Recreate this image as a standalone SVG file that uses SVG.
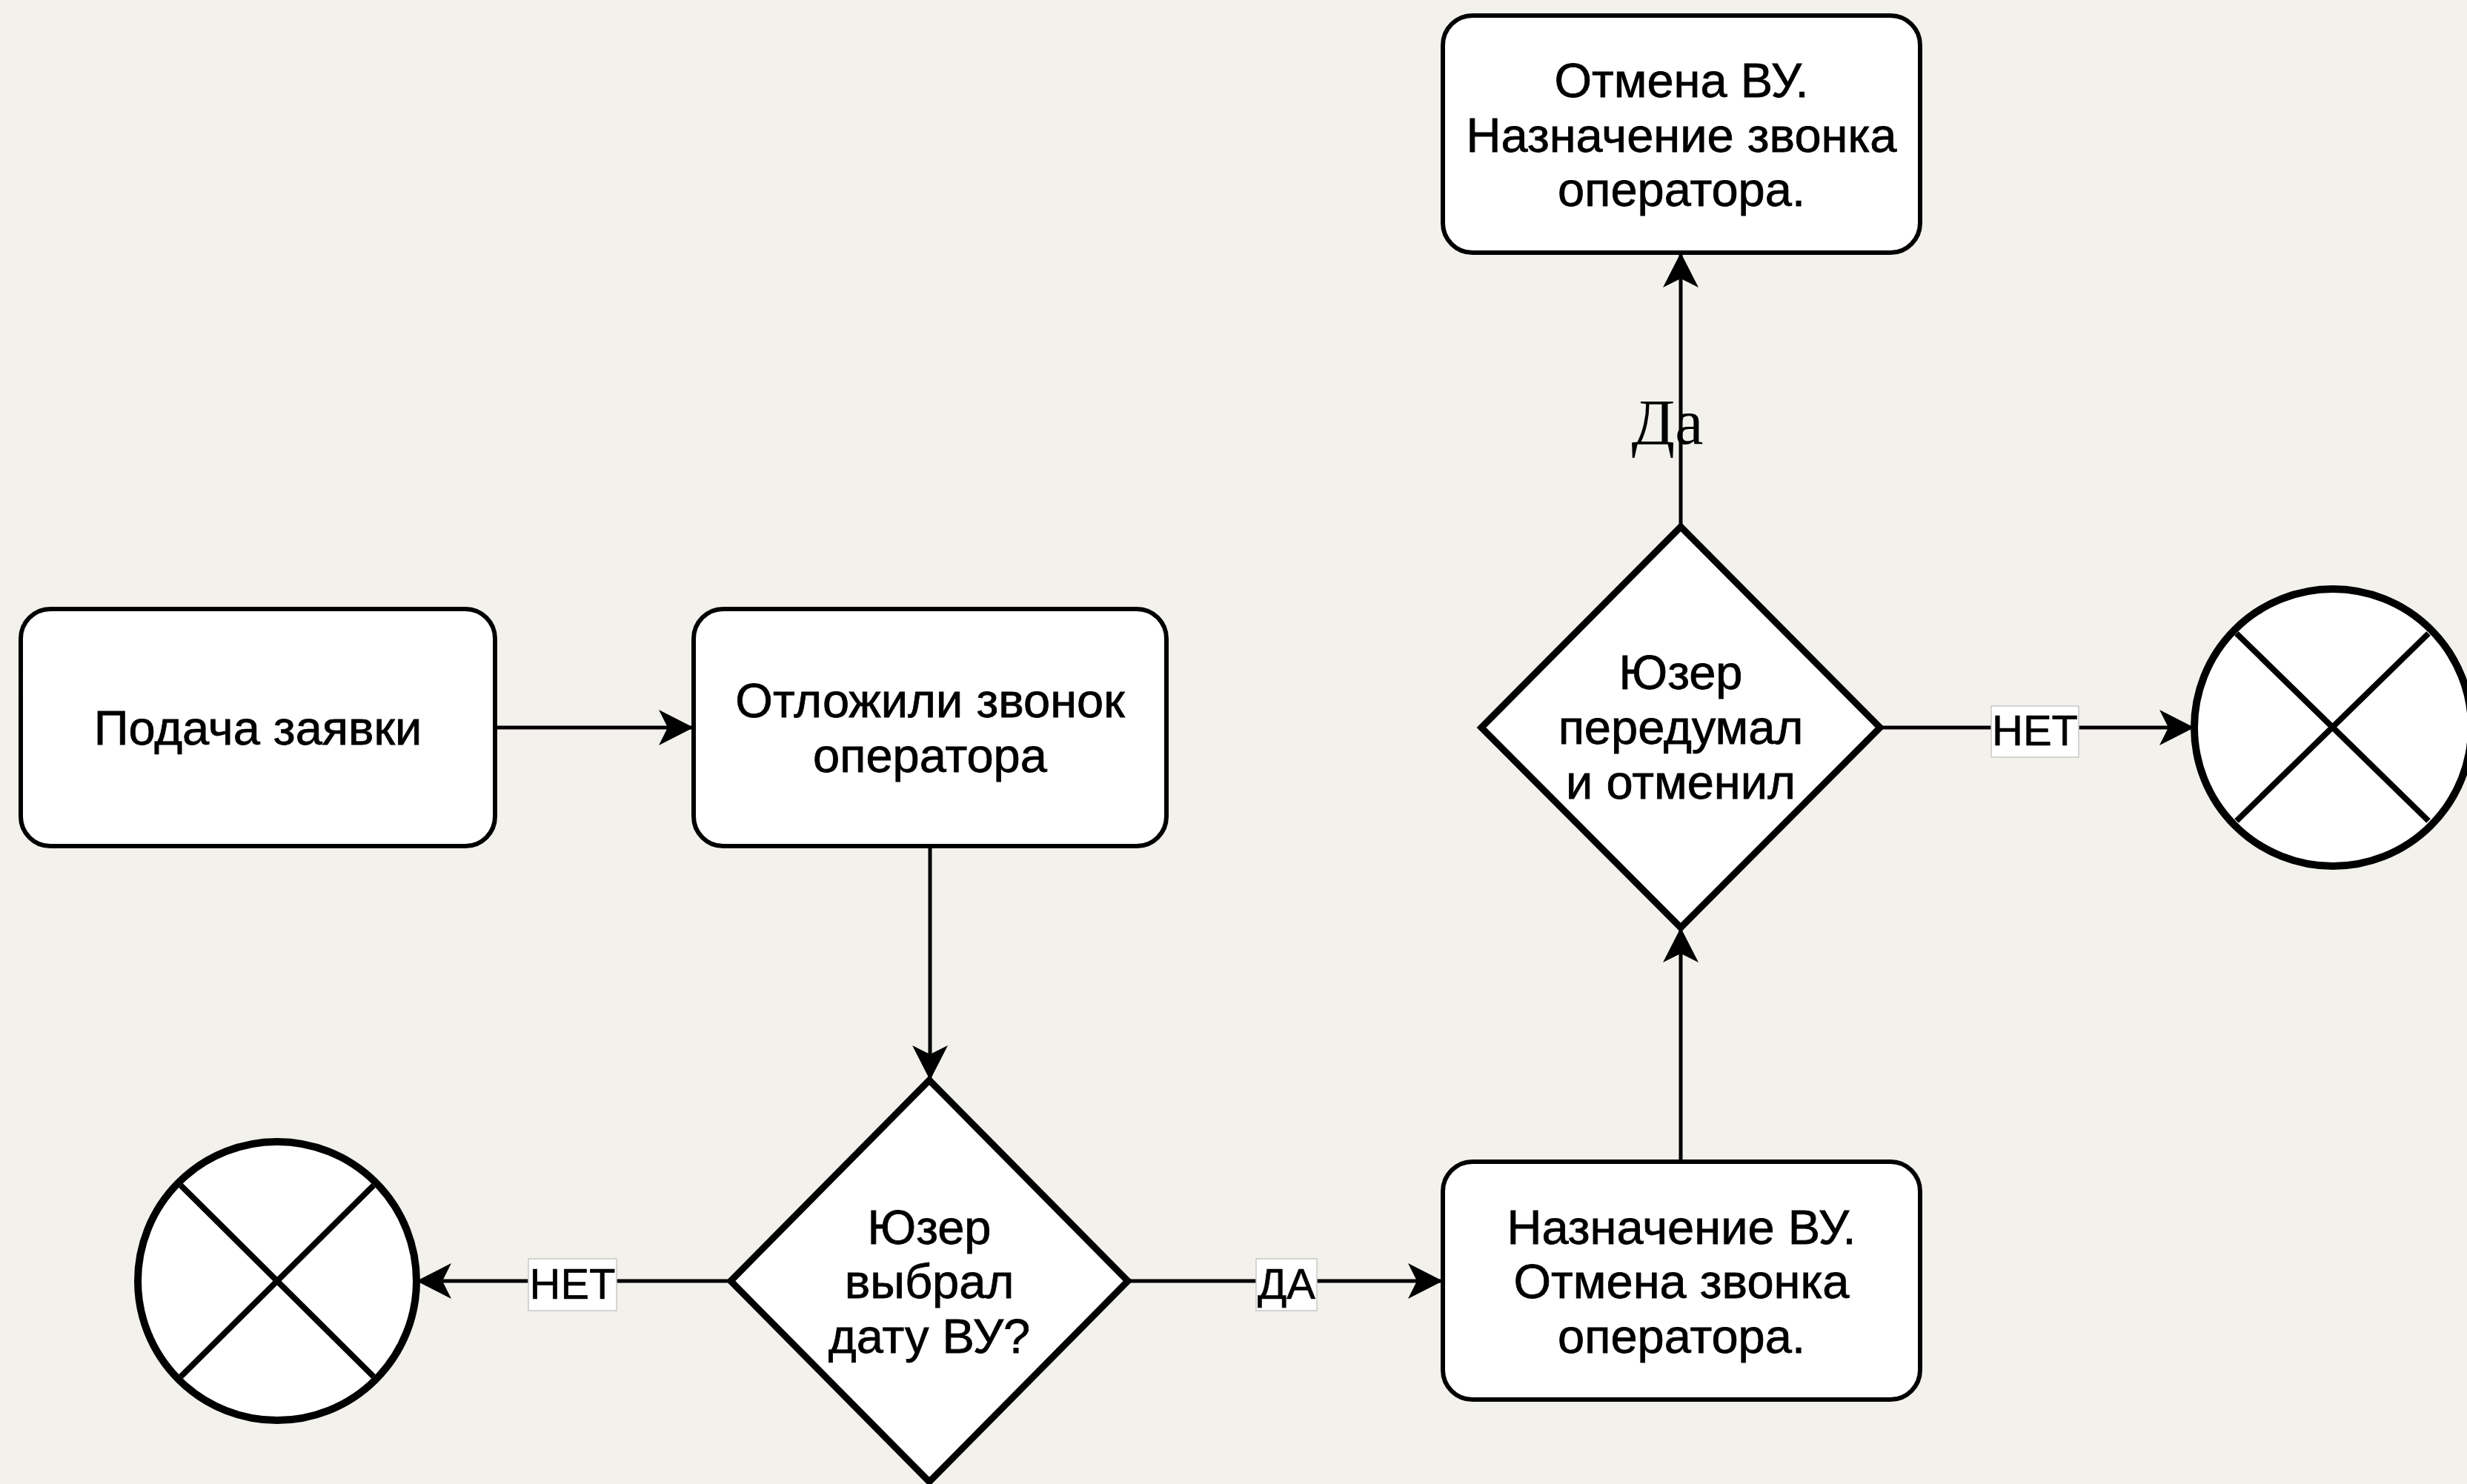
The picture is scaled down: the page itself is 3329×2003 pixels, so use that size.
<svg xmlns="http://www.w3.org/2000/svg" width="3329" height="2003" viewBox="0 0 3329 2003">
  <style>
    .box { fill: #ffffff; stroke: #000000; stroke-width: 6; }
    .dia { fill: #ffffff; stroke: #000000; stroke-width: 9; stroke-linejoin: miter; }
    .end { fill: #ffffff; stroke: #000000; stroke-width: 10; }
    .cross { stroke: #000000; stroke-width: 8; }
    .edge { fill: none; stroke: #000000; stroke-width: 5; marker-end: url(#arrow); }
    .lbl { font-family: "Liberation Sans", Arial, sans-serif; font-size: 65px; fill: #000000; stroke: #000000; stroke-width: 0.8; text-anchor: middle; }
    .elbl { font-family: "Liberation Sans", Arial, sans-serif; font-size: 58px; fill: #000000; stroke: #000000; stroke-width: 0.6; text-anchor: middle; }
    .elbg { fill: #ffffff; stroke: #c8c8c8; stroke-width: 1.5; }
    .serif { font-family: "Liberation Serif", "Times New Roman", serif; font-size: 86px; fill: #000000; text-anchor: middle; }
  </style>
  <defs>
    <marker id="arrow" markerUnits="userSpaceOnUse" viewBox="-50 -26 52 52" markerWidth="52" markerHeight="52" refX="0" refY="0" orient="auto">
      <path d="M0,0 L-47,-24 L-35,0 L-47,24 Z" fill="#000000"/>
    </marker>
  </defs>

  <!-- paper background -->
  <rect x="0" y="0" width="3329" height="2003" fill="#f3f1ec"/>

  <!-- connectors -->
  <g id="connectors">
    <path class="edge" d="M668,982 H936"/>
    <path class="edge" d="M1255,1142 V1458"/>
    <path class="edge" d="M986,1729 H562"/>
    <path class="edge" d="M1522,1729 H1947"/>
    <path class="edge" d="M2268,1568 V1252"/>
    <path class="edge" d="M2268,711 V341"/>
    <path class="edge" d="M2537,982 H2961"/>

    <g id="label-no-left">
      <rect class="elbg" x="713" y="1699" width="119" height="70"/>
      <text class="elbl" x="772.5" y="1753">НЕТ</text>
    </g>
    <g id="label-yes-bottom">
      <rect class="elbg" x="1695" y="1699" width="82" height="70"/>
      <text class="elbl" x="1736" y="1753">ДА</text>
    </g>
    <g id="label-no-right">
      <rect class="elbg" x="2687" y="953" width="118" height="69"/>
      <text class="elbl" x="2746" y="1006">НЕТ</text>
    </g>
    <text id="label-yes-top" class="serif" x="2250" y="599">Да</text>
  </g>

  <!-- process steps -->
  <g id="submit-request">
    <rect class="box" x="28" y="822" width="640" height="320" rx="40" ry="40"/>
    <text class="lbl" x="348" y="1005">Подача заявки</text>
  </g>

  <g id="call-postponed">
    <rect class="box" x="936" y="822" width="638" height="320" rx="40" ry="40"/>
    <text class="lbl" x="1255" y="968">Отложили звонок</text>
    <text class="lbl" x="1255" y="1042">оператора</text>
  </g>

  <g id="date-chosen">
    <polygon class="dia" points="1254,1458 1522,1729 1254,2000 986,1729"/>
    <text class="lbl" x="1254" y="1679">Юзер</text>
    <text class="lbl" x="1254" y="1752">выбрал</text>
    <text class="lbl" x="1254" y="1826">дату ВУ?</text>
  </g>

  <g id="end-left">
    <circle class="end" cx="374" cy="1729" r="188"/>
    <line class="cross" x1="244" y1="1600" x2="504" y2="1858"/>
    <line class="cross" x1="504" y1="1600" x2="244" y2="1858"/>
  </g>

  <g id="visit-assigned">
    <rect class="box" x="1947" y="1568" width="644" height="321" rx="40" ry="40"/>
    <text class="lbl" x="2269" y="1679">Назначение ВУ.</text>
    <text class="lbl" x="2269" y="1752">Отмена звонка</text>
    <text class="lbl" x="2269" y="1826">оператора.</text>
  </g>

  <g id="user-cancelled">
    <polygon class="dia" points="2268,711 2537,982 2268,1252 1999,982"/>
    <text class="lbl" x="2268" y="930">Юзер</text>
    <text class="lbl" x="2268" y="1004">передумал</text>
    <text class="lbl" x="2268" y="1078">и отменил</text>
  </g>

  <g id="visit-cancelled">
    <rect class="box" x="1947" y="21" width="644" height="320" rx="40" ry="40"/>
    <text class="lbl" x="2269" y="131">Отмена ВУ.</text>
    <text class="lbl" x="2269" y="205">Назначение звонка</text>
    <text class="lbl" x="2269" y="278">оператора.</text>
  </g>

  <g id="end-right">
    <circle class="end" cx="3148" cy="982" r="187"/>
    <line class="cross" x1="3018" y1="855" x2="3277" y2="1108"/>
    <line class="cross" x1="3277" y1="855" x2="3018" y2="1108"/>
  </g>
</svg>
